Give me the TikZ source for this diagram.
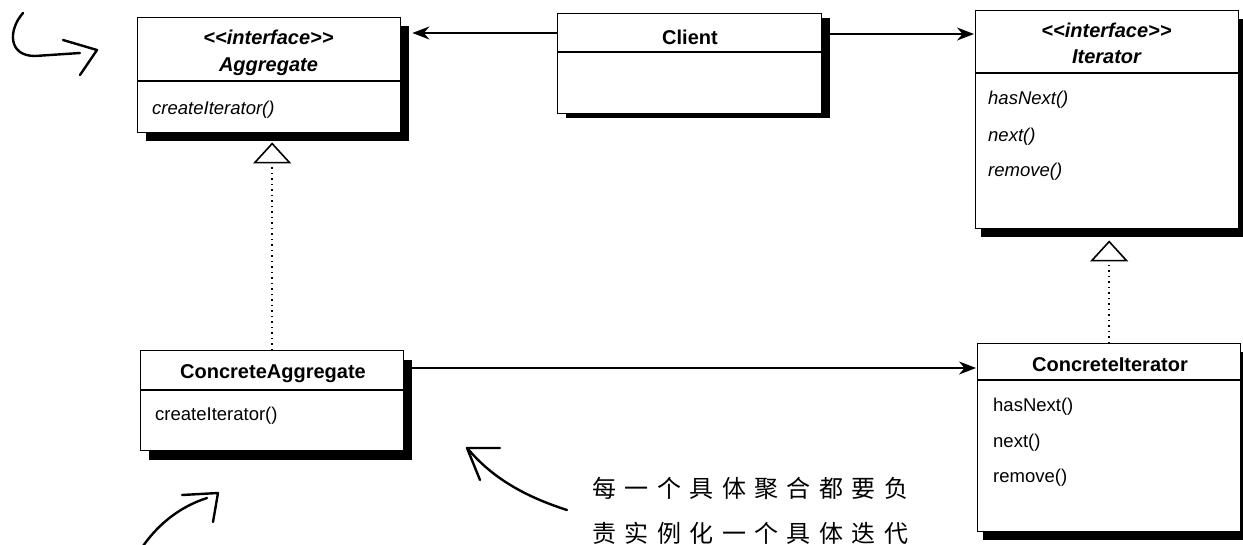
\documentclass[tikz,border=0pt]{standalone}
\usepackage{fontspec}
\setmainfont{Liberation Sans}
\newfontfamily\cjk{Noto Sans CJK SC}
\usetikzlibrary{arrows.meta,calc}
\newcommand\cc[1]{\makebox[32.4pt]{#1}}
\newcommand\stereo{{<}{<}interface{>}{>}}
\begin{document}
\begin{tikzpicture}[x=1pt,y=-1pt,
  umlbox/.style={draw, line width=1.3pt, fill=white, inner sep=0pt, anchor=north west},
  shadowbox/.style={fill=black, inner sep=0pt, anchor=north west},
  divider/.style={line width=1.2pt},
  btitle/.style={font=\fontsize{20}{24}\selectfont\bfseries, inner sep=0pt},
  bititle/.style={font=\fontsize{20}{24}\selectfont\bfseries\itshape, inner sep=0pt},
  meth/.style={font=\fontsize{18.5}{22}\selectfont, anchor=west, inner sep=0pt},
  imeth/.style={font=\fontsize{18.5}{22}\selectfont\itshape, anchor=west, inner sep=0pt},
  assoc/.style={line width=1.8pt, -{Stealth[length=17pt,width=13pt]}},
  realize/.style={line width=1.5pt, dash pattern=on 1.5pt off 4pt,
     -{Triangle[open, length=21pt, width=38pt, line width=1.6pt, fill=white]}},
  hand/.style={line width=2.4pt, line cap=round, line join=round},
  notetext/.style={font=\cjk\fontsize{24}{28}\selectfont, inner sep=0pt, anchor=west}]
\useasboundingbox (0,0) rectangle (1243,544);
\clip (0,0) rectangle (1243,544);

% shadows
\node[shadowbox, minimum width=263pt, minimum height=115pt] (aggs) at (146,26) {};
\node[shadowbox, minimum width=264pt, minimum height=100pt] (cls) at (566,18) {};
\node[shadowbox, minimum width=263pt, minimum height=218pt] (its) at (981,19) {};
\node[shadowbox, minimum width=263pt, minimum height=100pt] (cas) at (149,360) {};
\node[shadowbox, minimum width=263pt, minimum height=188pt] (cis) at (983,352) {};

% boxes
\node[umlbox, minimum width=263pt, minimum height=115pt] (agg) at (137,17) {};
\node[umlbox, minimum width=264pt, minimum height=100pt] (client) at (557,13) {};
\node[umlbox, minimum width=263pt, minimum height=218pt] (it) at (975,10) {};
\node[umlbox, minimum width=263pt, minimum height=100pt] (ca) at (140,350) {};
\node[umlbox, minimum width=263pt, minimum height=188pt] (ci) at (977,343) {};

% dividers
\draw[divider] (agg.west |- 0,81) -- (agg.east |- 0,81);
\draw[divider] (client.west |- 0,52) -- (client.east |- 0,52);
\draw[divider] (it.west |- 0,73) -- (it.east |- 0,73);
\draw[divider] (ca.west |- 0,390) -- (ca.east |- 0,390);
\draw[divider] (ci.west |- 0,380) -- (ci.east |- 0,380);

% texts
\node[bititle] (aggst) at (268.5,37) {\stereo};
\node[bititle] (aggt) at (268.5,67) {Aggregate};
\node[imeth] (aggm) at (152,110) {createIterator()};

\node[btitle] (clt) at (690,37) {Client};

\node[bititle] (itst) at (1106.5,30) {\stereo};
\node[bititle] (itt) at (1106.5,57) {Iterator};
\node[imeth] (itm1) at (988,100) {hasNext()};
\node[imeth] (itm2) at (988,137) {next()};
\node[imeth] (itm3) at (988,172) {remove()};

\node[btitle] (cat) at (273,374) {ConcreteAggregate};
\node[meth] (cam) at (155,416) {createIterator()};

\node[btitle] (cit) at (1110,365) {ConcreteIterator};
\node[meth] (cim1) at (993,407) {hasNext()};
\node[meth] (cim2) at (993,443) {next()};
\node[meth] (cim3) at (993,478) {remove()};

% connectors
\draw[assoc] ($(client.north west)+(0,20)$) -- ($(aggs.north east)+(3,7)$);
\draw[assoc] ($(cls.north east)+(0,16)$) -- ($(it.north west)+(-1,24)$);
\draw[assoc] ($(cas.north east)+(0,8)$) -- ($(ci.north west)+(-1,25)$);
\draw[realize] (ca.north) -- ($(ca.north |- aggs.south)+(0,1)$);
\draw[realize] (ci.north) -- ($(ci.north |- its.south)+(0,3)$);

% note text
\node[notetext] (note1) at (588,488) {\cc{每}\cc{一}\cc{个}\cc{具}\cc{体}\cc{聚}\cc{合}\cc{都}\cc{要}\cc{负}};
\node[notetext] (note2) at (588,533) {\cc{责}\cc{实}\cc{例}\cc{化}\cc{一}\cc{个}\cc{具}\cc{体}\cc{迭}\cc{代}};

% hand-drawn arrows
\draw[hand] (23,13) .. controls (8,30) and (8,56) .. (35,56) -- (80,53);
\draw[hand] (63,40) -- (97,50) -- (80,75);
\draw[hand] (143,546) .. controls (160,522) and (182,506) .. (207,498);
\draw[hand] (182,495) -- (218,493) -- (213,522);
\draw[hand] (567,510) .. controls (520,495) and (490,475) .. (468,449);
\draw[hand] (500,448) -- (467,448) -- (480,480);
\end{tikzpicture}
\end{document}
